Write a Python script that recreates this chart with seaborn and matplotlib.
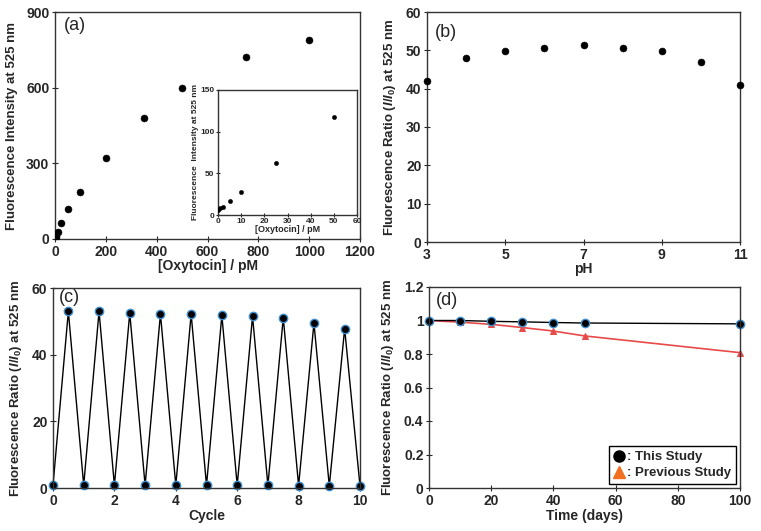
import numpy as np
import pandas as pd
import matplotlib
matplotlib.use("Agg")
import matplotlib.pyplot as plt
import seaborn as sns
from matplotlib.lines import Line2D

# ---- data ----
conc = [0, 1, 2, 5, 10, 25, 50, 100, 200, 350, 500, 750, 1000]
intensity = [5, 7, 9, 17, 28, 62, 118, 188, 320, 480, 600, 720, 790]

inset_conc = [0, 1, 2, 5, 10, 25, 50]
inset_int = [6, 8, 10, 17, 28, 63, 118]

ph = [3, 4, 5, 6, 7, 8, 9, 10, 11]
ph_ratio = [42, 48, 49.9, 50.7, 51.3, 50.6, 49.9, 47, 41]

cycle = [0, 0.5, 1, 1.5, 2, 2.5, 3, 3.5, 4, 4.5, 5, 5.5, 6, 6.5, 7, 7.5, 8, 8.5, 9, 9.5, 10]
cycle_ratio = [0.8, 53, 0.8, 53, 0.8, 52.5, 0.8, 52.2, 0.8, 52.2, 0.8, 51.8,
               0.8, 51.5, 0.8, 51.1, 0.7, 49.5, 0.6, 47.8, 0.6]

days = [0, 10, 20, 30, 40, 50, 100]
this_study = [1.0, 1.0, 0.995, 0.992, 0.988, 0.985, 0.98]
prev_study = [1.0, 0.99, 0.977, 0.958, 0.937, 0.908, 0.808]

# ---- style ----
sns.set_style("ticks")
plt.rcParams['font.family'] = ['Liberation Sans', 'DejaVu Sans']
plt.rcParams['font.weight'] = 'bold'
plt.rcParams['axes.labelweight'] = 'bold'
plt.rcParams['mathtext.fontset'] = 'custom'
plt.rcParams['mathtext.rm'] = 'Liberation Sans:bold'
plt.rcParams['mathtext.it'] = 'Liberation Sans:italic:bold'
plt.rcParams['mathtext.bf'] = 'Liberation Sans:bold'
plt.rcParams['axes.edgecolor'] = '#333333'
plt.rcParams['axes.linewidth'] = 1.0
plt.rcParams['xtick.direction'] = 'inout'
plt.rcParams['ytick.direction'] = 'inout'
plt.rcParams['xtick.major.size'] = 5
plt.rcParams['ytick.major.size'] = 5
plt.rcParams['xtick.major.pad'] = 1.5
plt.rcParams['ytick.major.pad'] = 1.5

fig = plt.figure(figsize=(7.61, 5.31), dpi=100)
W, H = 761, 531

def add_ax(l, t, r, b):
    return fig.add_axes([l / W, (H - b) / H, (r - l) / W, (b - t) / H])

ratio_label = r"Fluorescence Ratio ($I/I_0$) at 525 nm"

# ---- (a) ----
ax = add_ax(55, 12, 360, 239)
sns.scatterplot(x=conc, y=intensity, ax=ax, color='black', s=25, edgecolor='black', zorder=3)
ax.set_xlim(0, 1200)
ax.set_ylim(0, 900)
ax.set_xticks(range(0, 1201, 200))
ax.set_yticks([0, 300, 600, 900])
ax.set_xlabel("[Oxytocin] / pM", fontsize=10, labelpad=0)
ax.set_ylabel("Fluorescence Intensity at 525 nm", fontsize=9.5, labelpad=6)
ax.tick_params(labelsize=10)
ax.text(0.03, 0.94, "(a)", transform=ax.transAxes, fontsize=13, fontweight='normal', va='center')

ins = add_ax(218, 90, 357, 215)
sns.scatterplot(x=inset_conc, y=inset_int, ax=ins, color='black', s=10, edgecolor='black', zorder=3)
ins.set_xlim(0, 60)
ins.set_ylim(0, 150)
ins.set_xticks(range(0, 61, 10))
ins.set_yticks([0, 50, 100, 150])
ins.tick_params(labelsize=6, length=3, pad=1)
ins.set_xlabel("[Oxytocin] / pM", fontsize=6.5, labelpad=0)
ins.set_ylabel("Fluorescence  Intensity at 525 nm", fontsize=6, labelpad=1)

# ---- (b) ----
ax = add_ax(427, 12, 740, 242)
sns.scatterplot(x=ph, y=ph_ratio, ax=ax, color='black', s=25, edgecolor='black', zorder=3, clip_on=False)
ax.set_xlim(3, 11)
ax.set_ylim(0, 60)
ax.set_xticks([3, 5, 7, 9, 11])
ax.set_yticks(range(0, 61, 10))
ax.set_xlabel("pH", fontsize=10, labelpad=0)
ax.set_ylabel(ratio_label, fontsize=9.5, labelpad=6)
ax.tick_params(labelsize=10)
ax.text(0.025, 0.91, "(b)", transform=ax.transAxes, fontsize=13, fontweight='normal', va='center')

# ---- (c) ----
ax = add_ax(53, 288, 360, 488)
cdf = pd.DataFrame({"cycle": cycle, "ratio": cycle_ratio})
sns.lineplot(data=cdf, x="cycle", y="ratio", ax=ax, color='black', lw=1.0,
             marker='o', markersize=6, markerfacecolor='black',
             markeredgecolor='#3d8fd0', markeredgewidth=1.0, clip_on=False)
ax.set_xlim(0, 10)
ax.set_ylim(0, 60)
ax.set_xticks(range(0, 11, 2))
ax.set_yticks(range(0, 61, 20))
ax.set_xlabel("Cycle", fontsize=10, labelpad=1)
ax.set_ylabel(ratio_label, fontsize=9.5, labelpad=6)
ax.tick_params(labelsize=10)
ax.text(0.02, 0.955, "(c)", transform=ax.transAxes, fontsize=13, fontweight='normal', va='center')

# ---- (d) ----
ax = add_ax(429, 287, 740, 488)
sns.lineplot(x=days, y=prev_study, ax=ax, color='#e84a4a', lw=1.2,
             marker='^', markersize=5, markerfacecolor='#e84a4a',
             markeredgecolor='#e84a4a', clip_on=False)
sns.lineplot(x=days, y=this_study, ax=ax, color='black', lw=1.0,
             marker='o', markersize=6, markerfacecolor='black',
             markeredgecolor='#3d8fd0', markeredgewidth=1.0, clip_on=False)
ax.set_xlim(0, 100)
ax.set_ylim(0, 1.2)
ax.set_xticks(range(0, 101, 20))
ax.set_yticks([0, 0.2, 0.4, 0.6, 0.8, 1.0, 1.2])
ax.set_yticklabels(["0", "0.2", "0.4", "0.6", "0.8", "1", "1.2"])
ax.set_xlabel("Time (days)", fontsize=10, labelpad=1)
ax.set_ylabel(ratio_label, fontsize=9.5, labelpad=6)
ax.tick_params(labelsize=10)
ax.text(0.023, 0.935, "(d)", transform=ax.transAxes, fontsize=13, fontweight='normal', va='center')
handles = [Line2D([], [], ls='none', marker='o', color='black', markersize=8),
           Line2D([], [], ls='none', marker='^', color='#f07020', markersize=8)]
leg = ax.legend(handles, [": This Study", ": Previous Study"], loc='lower right',
                fontsize=9.5, handlelength=0.8, handletextpad=0.2, fancybox=False,
                edgecolor='black', framealpha=1, borderpad=0.35, labelspacing=0.3,
                borderaxespad=0.3)
leg.get_frame().set_linewidth(1.0)

fig.savefig("out.png", dpi=100)
